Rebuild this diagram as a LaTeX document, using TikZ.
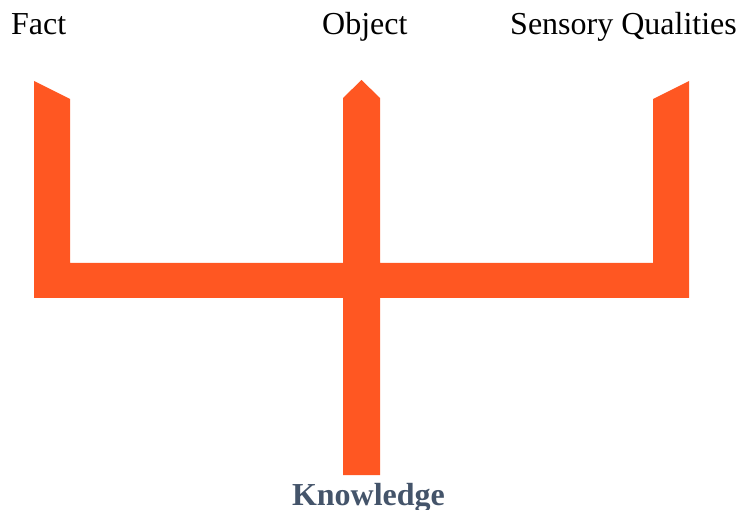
\documentclass[tikz,border=0pt]{standalone}
\usepackage{fontspec}
\setmainfont{Liberation Serif}
\definecolor{barorange}{HTML}{FF5722}
\definecolor{slate}{HTML}{44546A}
\begin{document}
\begin{tikzpicture}[x=1pt,y=-1pt,
  lbl/.style={inner sep=0pt,font=\fontsize{32}{38}\selectfont},
  bar/.style={fill=barorange,draw=none}]
\useasboundingbox (0,0) rectangle (738,510);
\fill[bar] (34,81) -- (70,99) -- (70,263) -- (343,263) -- (343,98) -- (361.5,80)
  -- (380,98) -- (380,263) -- (653,263) -- (653,99) -- (689,81) -- (689,298)
  -- (380,298) -- (380,475) -- (343,475) -- (343,298) -- (34,298) -- cycle;
\node[lbl,anchor=base west] (fact) at (11,35) {Fact};
\node[lbl,anchor=base west] (object) at (322,35) {Object};
\node[lbl,anchor=base west] (sensory) at (510,35) {Sensory Qualities};
\node[lbl,anchor=base,text=slate,font=\fontsize{32}{38}\selectfont\bfseries] (knowledge) at (368.5,505) {Knowledge};
\end{tikzpicture}
\end{document}
